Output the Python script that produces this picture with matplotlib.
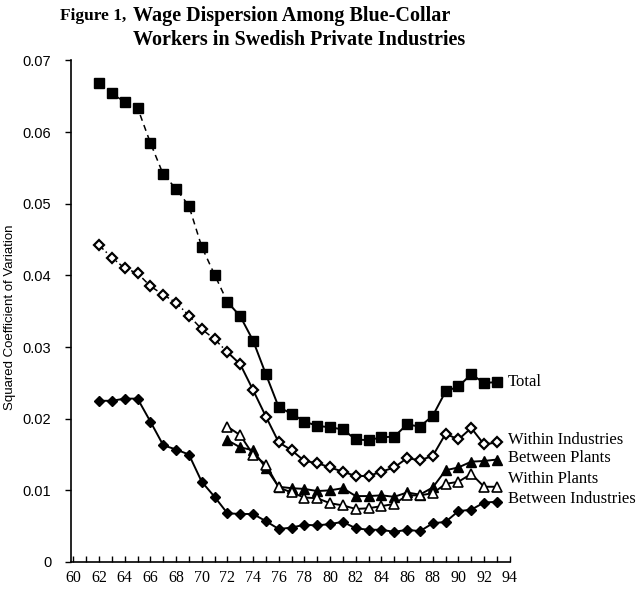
import matplotlib
matplotlib.use("Agg")
import matplotlib.pyplot as plt
import numpy as np

# years
years = np.arange(62, 94)
years_plants = np.arange(72, 94)

total = [0.0668, 0.0654, 0.0642, 0.0634, 0.0585, 0.0541, 0.0521, 0.0497, 0.0440, 0.0401,
         0.0363, 0.0343, 0.0309, 0.0262, 0.0216, 0.0207, 0.0196, 0.0190, 0.0188, 0.0185,
         0.0171, 0.0170, 0.0174, 0.0175, 0.0192, 0.0189, 0.0204, 0.0238, 0.0245, 0.0262,
         0.0250, 0.0251]
within_ind = [0.0442, 0.0425, 0.0410, 0.0403, 0.0385, 0.0373, 0.0362, 0.0344, 0.0325, 0.0311,
              0.0293, 0.0276, 0.0240, 0.0203, 0.0167, 0.0156, 0.0141, 0.0138, 0.0132, 0.0126,
              0.0120, 0.0120, 0.0126, 0.0132, 0.0145, 0.0142, 0.0148, 0.0179, 0.0171, 0.0187,
              0.0164, 0.0167]
between_ind = [0.0225, 0.0225, 0.0228, 0.0228, 0.0196, 0.0163, 0.0157, 0.0150, 0.0112, 0.0091,
               0.0068, 0.0067, 0.0067, 0.0057, 0.0046, 0.0048, 0.0052, 0.0051, 0.0053, 0.0056,
               0.0047, 0.0045, 0.0045, 0.0042, 0.0045, 0.0043, 0.0054, 0.0056, 0.0071, 0.0073,
               0.0083, 0.0084]
between_plants = [0.0170, 0.0160, 0.0156, 0.0131, 0.0105, 0.0103, 0.0102, 0.0099, 0.0100, 0.0103,
                  0.0092, 0.0092, 0.0093, 0.0091, 0.0097, 0.0094, 0.0104, 0.0128, 0.0132, 0.0140,
                  0.0141, 0.0143]
within_plants = [0.0189, 0.0177, 0.0150, 0.0136, 0.0104, 0.0097, 0.0090, 0.0089, 0.0082, 0.0079,
                 0.0074, 0.0075, 0.0078, 0.0081, 0.0093, 0.0093, 0.0096, 0.0109, 0.0112, 0.0123,
                 0.0105, 0.0105]

plt.rcParams['font.family'] = ['Liberation Serif', 'DejaVu Serif']

fig = plt.figure(figsize=(6.38, 5.93), dpi=100)
ax = fig.add_axes([0.111, 0.0523, 0.688, 0.8457])

k = 10  # index of 1972, where the dashed parts end
tot = np.array(total)
wi = np.array(within_ind)

# Total: dashed before 72, solid after
ax.plot(years[:k + 1], tot[:k + 1], color='black', lw=1.1, ls=(0, (4, 3)))
ax.plot(years[k:], tot[k:], color='black', lw=1.4)
ax.plot(years, tot, ls='none', marker='s', ms=6.5, mfc='black', mec='black')

# Within industries: dash-dot before 72
ax.plot(years[:k + 1], wi[:k + 1], color='black', lw=1.1, ls=(0, (4, 2, 1, 2)))
ax.plot(years[k:], wi[k:], color='black', lw=1.4)
ax.plot(years, wi, ls='none', marker='D', ms=5, mfc='white', mec='black', mew=1.6)

ax.plot(years_plants, between_plants, color='black', lw=1.4, marker='^', ms=6.5,
        mfc='black', mec='black')
ax.plot(years_plants, within_plants, color='black', lw=1.4, marker='^', ms=6.5,
        mfc='white', mec='black', mew=1.2)
ax.plot(years, between_ind, color='black', lw=1.4, marker='D', ms=5.5,
        mfc='black', mec='black')

# series labels at right
labels = ['Total', 'Within Industries', 'Between Plants', 'Within Plants', 'Between Industries']
label_y = [0.0251, 0.0170, 0.0145, 0.0116, 0.0088]
for lab, yy in zip(labels, label_y):
    ax.text(93.85, yy, lab, fontsize=12, va='center', ha='left', clip_on=False)

ax.set_xlim(59.8, 94)
ax.set_ylim(0, 0.07)
ax.set_xticks(np.arange(60, 95, 2))
ax.set_xticks(np.arange(60, 95, 1), minor=True)
ax.set_yticks(np.arange(0, 0.071, 0.01))
ax.set_yticklabels(['0', '0.01', '0.02', '0.03', '0.04', '0.05', '0.06', '0.07'],
                   family='Liberation Sans', fontsize=10.5)
ax.set_xticklabels([str(v) for v in range(60, 95, 2)], fontsize=11.5)
ax.tick_params(axis='x', which='both', direction='in', length=4, width=1, pad=6)
ax.tick_params(axis='y', direction='out', length=4, width=1, pad=10)

for s in ['top', 'right']:
    ax.spines[s].set_visible(False)
for s in ['left', 'bottom']:
    ax.spines[s].set_linewidth(1.2)

fig.text(0.016, 1 - 317 / 593, 'Squared Coefficient of Variation', rotation=90, ha='center',
         va='center', fontsize=9.5, family='Liberation Sans')

fig.text(60 / 638, 1 - 16 / 593, 'Figure 1,', fontsize=12.5, fontweight='bold', va='center')
fig.text(133 / 638, 1 - 16 / 593, 'Wage Dispersion Among Blue-Collar', fontsize=14.5,
         fontweight='bold', va='center')
fig.text(133 / 638, 1 - 40 / 593, 'Workers in Swedish Private Industries', fontsize=14.5,
         fontweight='bold', va='center')

fig.savefig('out.png', dpi=100)
